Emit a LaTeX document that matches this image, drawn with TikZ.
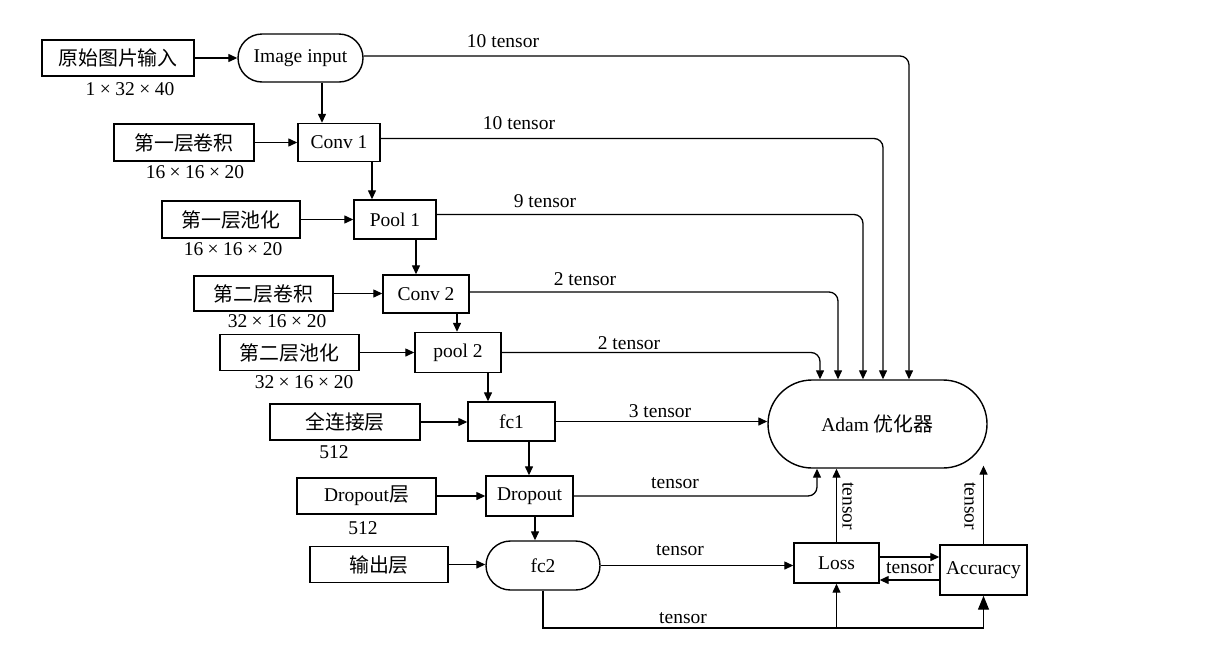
\documentclass[tikz,border=0pt]{standalone}
\usepackage{fontspec}
\setmainfont{Liberation Serif}
\newfontfamily\cjk[Scale=1.02]{Noto Sans CJK SC}
\usetikzlibrary{shapes.misc,arrows.meta}
\newcommand{\X}{\kern4.5pt×\kern4.5pt}
\tikzset{
  base/.style={draw, line width=1.4pt, inner sep=0pt, font=\fontsize{19.5}{21}\selectfont},
  rbox/.style={base, rectangle},
  sbox/.style={base, rounded rectangle},
  arr/.style={line width=1.3pt, -{Triangle[length=9pt,width=8pt]}},
  bigarr/.style={line width=1.3pt, -{Triangle[length=14pt,width=11pt]}},
  lbl/.style={inner sep=0pt, font=\fontsize{19.5}{21}\selectfont},
}
\begin{document}
\begin{tikzpicture}[x=1pt,y=-1pt]
\useasboundingbox[fill=white] (0,0) rectangle (1230,646);
% left input boxes
\node[rbox, minimum width=152pt, minimum height=36pt] (s0) at (118,58) {\cjk 原始图片输入};
\node[rbox, minimum width=140pt, minimum height=37pt] (s1) at (184,142.5) {\cjk 第一层卷积};
\node[rbox, minimum width=138pt, minimum height=37pt] (s2) at (231,219.5) {\cjk 第一层池化};
\node[rbox, minimum width=139pt, minimum height=35pt] (s3) at (263.5,293.5) {\cjk 第二层卷积};
\node[rbox, minimum width=139pt, minimum height=36pt] (s4) at (289.5,352.5) {\cjk 第二层池化};
\node[rbox, minimum width=150pt, minimum height=36pt] (s5) at (345,422) {\cjk 全连接层};
\node[rbox, minimum width=139pt, minimum height=36pt] (s6) at (366.5,496) {Dropout{\cjk 层}};
\node[rbox, minimum width=138pt, minimum height=36pt] (s7) at (379,564.5) {\cjk 输出层};
% size labels
\node[lbl] (d0) at (130,89) {1\X32\X40};
\node[lbl] (d1) at (195,172) {16\X16\X20};
\node[lbl] (d2) at (233,249) {16\X16\X20};
\node[lbl] (d3) at (277,321) {32\X16\X20};
\node[lbl] (d4) at (304,382) {32\X16\X20};
\node[lbl] (d5) at (334,452) {512};
\node[lbl] (d6) at (363,528) {512};
% main chain
\node[sbox, minimum width=125pt, minimum height=48pt] (img) at (300.5,58) {Image input};
\node[rbox, minimum width=82pt, minimum height=38pt] (conv1) at (339,142.5) {Conv 1};
\node[rbox, minimum width=82pt, minimum height=39pt] (pool1) at (395,219.5) {Pool 1};
\node[rbox, minimum width=86pt, minimum height=38pt] (conv2) at (426,294) {Conv 2};
\node[rbox, minimum width=86pt, minimum height=40pt] (pool2) at (458,352.5) {pool 2};
\node[rbox, minimum width=87pt, minimum height=39pt] (fc1) at (511.5,421.5) {fc1};
\node[rbox, minimum width=87pt, minimum height=40pt] (drop) at (529.5,496) {Dropout};
\node[sbox, minimum width=114pt, minimum height=49pt] (fc2) at (543,565.5) {fc2};
\node[sbox, minimum width=219pt, minimum height=88pt] (adam) at (877.5,424) {Adam {\cjk 优化器}};
\node[rbox, minimum width=85pt, minimum height=40pt] (loss) at (836.5,563) {Loss};
\node[rbox, minimum width=87pt, minimum height=50pt] (acc) at (983.5,570) {Accuracy};
% input arrows
\foreach \a/\b in {s0/img,s1/conv1,s2/pool1,s3/conv2,s4/pool2,s5/fc1,s6/drop,s7/fc2}
  \draw[arr] (\a.east) -- (\a.east -| \b.west);
% vertical chain arrows
\draw[arr] ([xshift=21.5pt]img.south) -- ([xshift=21.5pt]img.south |- conv1.north);
\draw[arr] ([xshift=33pt]conv1.south) -- ([xshift=33pt]conv1.south |- pool1.north);
\draw[arr] ([xshift=21pt]pool1.south) -- ([xshift=21pt]pool1.south |- conv2.north);
\draw[arr] ([xshift=31pt]conv2.south) -- ([xshift=31pt]conv2.south |- pool2.north);
\draw[arr] ([xshift=30pt]pool2.south) -- ([xshift=30pt]pool2.south |- fc1.north);
\draw[arr] ([xshift=17.5pt]fc1.south) -- ([xshift=17.5pt]fc1.south |- drop.north);
\draw[arr] ([xshift=5.5pt]drop.south) -- ([xshift=5.5pt]drop.south |- fc2.north);
% to Adam from top
\draw[arr, rounded corners=9pt] ([yshift=2pt]img.east) -| ([xshift=31.5pt]adam.north);
\draw[arr, rounded corners=9pt] ([yshift=4pt]conv1.east) -| ([xshift=5.5pt]adam.north);
\draw[arr, rounded corners=9pt] ([yshift=5pt]pool1.east) -| ([xshift=-14.5pt]adam.north);
\draw[arr, rounded corners=9pt] ([yshift=2pt]conv2.east) -| ([xshift=-39.5pt]adam.north);
\draw[arr, rounded corners=9pt] (pool2.east) -| ([xshift=-57.5pt]adam.north);
\draw[arr] (fc1.east) -- (fc1.east -| adam.west);
\draw[arr, rounded corners=9pt] (drop.east) -| ([xshift=-60.5pt]adam.south);
\draw[arr] (loss.north) -- (loss.north |- adam.south);
\draw[arr] (acc.north) -- (acc.north |- adam.-27);
% bottom
\draw[arr] (fc2.east) -- (fc2.east -| loss.west);
\draw[arr] ([yshift=6pt]loss.east) -- ([yshift=6pt]loss.east -| acc.west);
\draw[arr] ([yshift=-10pt]acc.west) -- ([yshift=-10pt]acc.west -| loss.east);
\coordinate (bus) at (0,628);
\draw[bigarr] (fc2.south) |- (acc.south |- bus) -- (acc.south);
\draw[arr] (loss.south |- bus) -- (loss.south);
% edge labels
\node[lbl] (t1) at (503,41) {10 tensor};
\node[lbl] (t2) at (519,123) {10 tensor};
\node[lbl] (t3) at (545,201) {9 tensor};
\node[lbl] (t4) at (585,279) {2 tensor};
\node[lbl] (t5) at (629,343) {2 tensor};
\node[lbl] (t6) at (660,411) {3 tensor};
\node[lbl] (t7) at (675,483) {tensor};
\node[lbl] (t8) at (680,550) {tensor};
\node[lbl] (t9) at (683,618) {tensor};
\node[lbl] (t10) at (910,568) {tensor};
\node[lbl, rotate=-90] (t11) at (848,506) {tensor};
\node[lbl, rotate=-90] (t12) at (970,506) {tensor};
\end{tikzpicture}
\end{document}
